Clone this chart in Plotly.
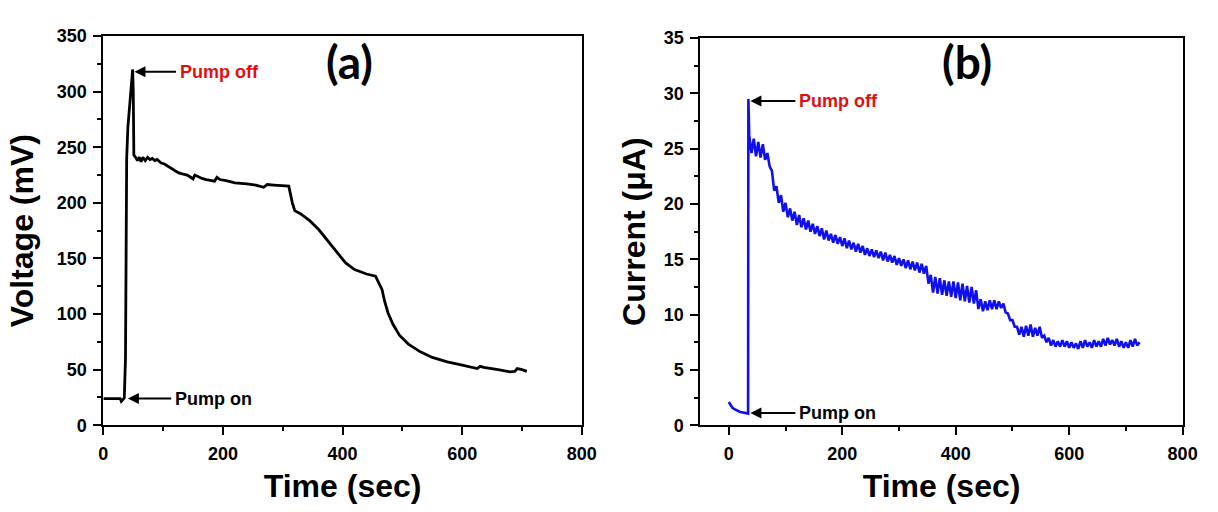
import plotly.graph_objects as go

# ---- Panel (a): cell voltage vs time ----
time_volt = [0, 10, 20, 28, 30, 32, 35, 37, 38, 39, 41, 46, 49, 50, 51, 54, 57, 60, 63, 66,
             70, 74, 78, 82, 86, 90, 96, 102, 108, 114, 120, 126, 132, 140, 146, 150, 153,
             158, 165, 172, 180, 186, 190, 195, 205, 220, 240, 255, 268, 274, 285, 300, 310,
             316, 320, 330, 345, 360, 375, 390, 405, 420, 440, 455, 458, 462, 466, 470, 476,
             484, 495, 510, 530, 550, 575, 600, 625, 630, 636, 660, 680, 688, 692, 700, 708]
voltage = [24, 24, 24, 24, 21.5, 23, 24.5, 60, 150, 240, 268, 300, 320, 300, 243, 241, 238, 241,
           237, 241, 238, 241, 239, 240, 238, 239, 236, 235, 233, 231, 229, 227, 226, 225, 223,
           221.5, 225, 223.5, 222, 221, 220, 219.5, 223, 221, 220, 218, 217, 216, 214, 216.5,
           216, 215.5, 215, 200, 193, 190, 184, 176, 166, 156, 146, 140, 136, 134, 131, 126,
           122, 112, 101, 91, 81, 73, 66, 61, 57, 54, 51, 53, 52, 50, 48, 48.5, 51, 50, 48.5]

# ---- Panel (b): current vs time ----
time_cur = [0, 3, 6, 10, 15, 20, 25, 30, 34, 34.5,
            36, 40, 44, 48, 52, 56, 60, 64, 68, 72,
            76, 80, 84, 88, 92, 96, 100, 104, 108, 112,
            116, 120, 124, 128, 132, 136, 140, 144, 148, 152,
            156, 160, 164, 168, 172, 176, 180, 184, 188, 192,
            196, 200, 204, 208, 212, 216, 220, 224, 228, 232,
            236, 240, 244, 248, 252, 256, 260, 264, 268, 272,
            276, 280, 284, 288, 292, 296, 300, 304, 308, 312,
            316, 320, 324, 328, 332, 336, 340, 344, 348, 352,
            356, 360, 364, 368, 372, 376, 380, 384, 388, 392,
            396, 400, 404, 408, 412, 416, 420, 424, 428, 432,
            436, 440, 444, 448, 452, 456, 460, 464, 468, 472,
            476, 480, 484, 488, 492, 496, 500, 504, 508, 512,
            516, 520, 524, 528, 532, 536, 540, 544, 548, 552,
            556, 560, 564, 568, 572, 576, 580, 584, 588, 592,
            596, 600, 604, 608, 612, 616, 620, 624, 628, 632,
            636, 640, 644, 648, 652, 656, 660, 664, 668, 672,
            676, 680, 684, 688, 692, 696, 700, 704, 708, 712,
            716, 720, 724]
current = [2.1, 1.8, 1.6, 1.45, 1.3, 1.2, 1.15, 1.1, 1.05, 29.5,
           26.2, 24.6, 25.9, 24.3, 25.6, 24.2, 25.4, 24.0, 24.6, 23.4,
           23.0, 21.2, 21.6, 20.1, 20.8, 19.3, 20.1, 18.8, 19.6, 18.5,
           19.3, 18.1, 19.0, 17.9, 18.7, 17.7, 18.5, 17.5, 18.2, 17.3,
           18.0, 17.1, 17.8, 16.8, 17.6, 16.7, 17.3, 16.5, 17.2, 16.4,
           17.0, 16.2, 16.9, 16.0, 16.7, 15.9, 16.5, 15.7, 16.4, 15.6,
           16.2, 15.4, 16.0, 15.3, 15.9, 15.2, 15.8, 15.1, 15.7, 14.9,
           15.6, 14.8, 15.4, 14.7, 15.3, 14.5, 15.1, 14.4, 15.0, 14.2,
           14.9, 14.1, 14.8, 14.0, 14.7, 13.8, 14.6, 13.7, 14.4, 12.8,
           13.6, 12.0, 13.4, 11.9, 13.3, 11.8, 13.1, 11.7, 13.0, 11.6,
           13.0, 11.5, 12.9, 11.3, 12.8, 11.2, 12.6, 11.1, 12.5, 11.0,
           12.2, 10.5, 11.4, 10.3, 11.2, 10.4, 11.3, 10.5, 11.3, 10.5,
           11.2, 10.6, 11.0, 10.2, 10.1, 9.5, 9.5, 8.9, 8.9, 8.2,
           8.9, 8.0, 9.0, 8.1, 9.1, 8.0, 8.8, 8.1, 8.9, 7.9,
           8.1, 7.5, 7.9, 7.2, 7.7, 7.1, 7.6, 7.1, 7.7, 7.1,
           7.6, 7.0, 7.5, 7.0, 7.4, 6.9, 7.6, 7.0, 7.7, 7.1,
           7.5, 7.0, 7.7, 7.1, 7.6, 7.1, 7.8, 7.2, 7.9, 7.3,
           7.7, 7.2, 7.8, 7.1, 7.6, 7.0, 7.5, 7.0, 7.7, 7.1,
           7.8, 7.2, 7.5]

FONT = "Liberation Sans"

fig = go.Figure()
fig.add_trace(go.Scatter(x=time_volt, y=voltage, mode="lines",
                         line=dict(color="black", width=2.8),
                         xaxis="x", yaxis="y", hoverinfo="skip"))
fig.add_trace(go.Scatter(x=time_cur, y=current, mode="lines",
                         line=dict(color="#1010ea", width=2.6),
                         xaxis="x2", yaxis="y2", hoverinfo="skip"))


def axis_style(title, dtick, minor_dtick, rng, domain, anchor, standoff):
    return dict(
        range=rng, domain=domain, anchor=anchor,
        tick0=0, dtick=dtick,
        showline=True, linecolor="black", linewidth=2, mirror=True,
        ticks="outside", ticklen=8, tickwidth=2, tickcolor="black",
        ticklabelstandoff=3,
        tickfont=dict(family=FONT, size=18, color="black", weight="bold"),
        minor=dict(dtick=minor_dtick, tick0=0, ticks="outside", ticklen=4,
                   tickwidth=1.5, tickcolor="black", showgrid=False),
        showgrid=False, zeroline=False,
        title=dict(text=title, standoff=standoff,
                   font=dict(family=FONT, size=32, color="black", weight="bold")),
    )


fig.update_layout(
    width=1218, height=512,
    margin=dict(l=0, r=0, t=0, b=0),
    paper_bgcolor="white", plot_bgcolor="white",
    showlegend=False,
    xaxis=axis_style("Time (sec)", 200, 100, [0, 800], [0.0821, 0.4815], "y", 12),
    yaxis=axis_style("Voltage (mV)", 50, 25, [0, 350], [0.156, 0.947], "x", 14),
    xaxis2=axis_style("Time (sec)", 200, 100, [-50, 800], [0.5805, 0.983], "y2", 12),
    yaxis2=axis_style("Current (μA)", 5, 2.5, [0, 35], [0.156, 0.943], "x2", 9),
)

label_font = dict(family=FONT, size=18, weight="bold")
notes = [
    # (xref, yref, head_x, head_y, tail_x, text, color)
    ("x", "y", 52, 318, 124, "Pump off", "#e01010"),
    ("x", "y", 41, 24, 116, "Pump on", "black"),
    ("x2", "y2", 38, 29.3, 120, "Pump off", "#e01010"),
    ("x2", "y2", 38, 1.1, 120, "Pump on", "black"),
]
for xr, yr, hx, hy, tx, txt, col in notes:
    fig.add_annotation(xref=xr, yref=yr, axref=xr, ayref=yr,
                       x=hx, y=hy, ax=tx, ay=hy, text="",
                       showarrow=True, arrowhead=2, arrowsize=1.1,
                       arrowwidth=2, arrowcolor="black")
    fig.add_annotation(xref=xr, yref=yr, x=tx, y=hy, text=txt,
                       showarrow=False, xanchor="left", yanchor="middle",
                       font=dict(color=col, **label_font))

panel_font = dict(family="Lato", size=46, color="black", weight="bold")
fig.add_annotation(xref="paper", yref="paper", x=350 / 1218, y=1 - 54 / 512,
                   text="(a)", showarrow=False, xanchor="center", yanchor="middle",
                   font=panel_font)
fig.add_annotation(xref="paper", yref="paper", x=978 / 1218, y=1 - 54 / 512,
                   text="(b)", showarrow=False, xanchor="center", yanchor="middle",
                   font=panel_font)

fig.write_html("out.html")
